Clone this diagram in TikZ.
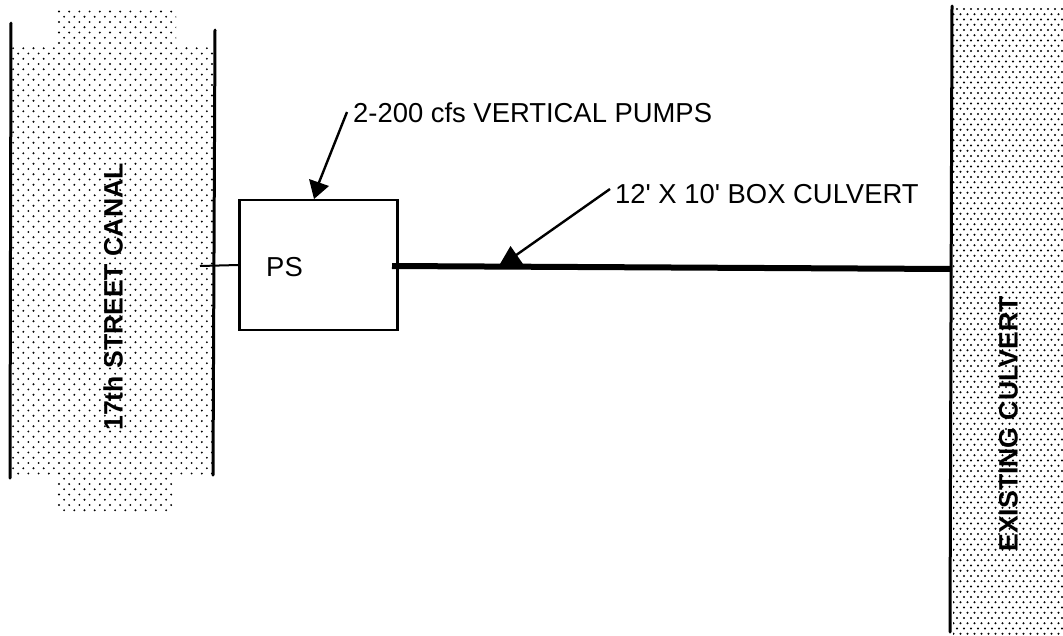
\documentclass[tikz,border=0pt]{standalone}
\usepackage{fontspec}
\newfontfamily\lab{Liberation Sans}
\tikzset{
  wall/.style={line width=3pt,line cap=round},
  leader/.style={line width=2.4pt},
  lbl/.style={inner sep=0pt,font=\lab\fontsize{27.4}{30}\selectfont},
  vlbl/.style={inner sep=0pt,rotate=90,font=\lab\fontsize{26.6}{30}\selectfont\bfseries}
}
\begin{document}
\begin{tikzpicture}[x=1pt,y=-1pt]
\useasboundingbox (0,0) rectangle (1063,635);
% left stipple
\begin{scope}
\clip (57,10) -- (176,10) -- (176,47) -- (213,47) -- (213,476) -- (172,476) -- (172,514) -- (55,514) -- (55,476) -- (11,476) -- (11,47) -- (57,47) -- cycle;
\fill[black] foreach \r in {0,...,97} {
  foreach \c in {0,...,21} {
    ({8+\c*10.2+mod(\r,2)*5.1},{11.5+\r*5.25}) circle (1.05)
  }
};
\end{scope}
% right stipple
\begin{scope}
\clip (953,8) rectangle (1063,635);
\fill[black] foreach \r in {0,...,120} {
  foreach \c in {0,...,16} {
    ({950+\c*7+mod(\r,2)*3.5},{9+\r*5.25}) circle (1.05)
  }
};
\end{scope}
% walls
\coordinate (lwa) at (11,23);
\coordinate (lwb) at (10,478);
\coordinate (lwc) at (215,30);
\coordinate (lwd) at (213,475);
\coordinate (rwa) at (952,6);
\coordinate (rwb) at (950,632);
\draw[wall] (lwa) -- (lwb);
\draw[wall] (lwc) -- (lwd);
\draw[wall] (rwa) -- (rwb);
% pump station
\node[draw,line width=2.8pt,minimum width=158pt,minimum height=130pt,inner sep=0pt] (ps) at (318.5,265) {};
\node[lbl] (pstext) at (284.5,267) {PS};
\coordinate (intake) at (200,266);
\coordinate (cend) at (952,269);
\coordinate (cstart) at (392,266);
\draw[line width=2pt] (intake) -- (ps.west);
\draw[line width=6pt] (cstart) -- (cend);
% labels
\node[lbl,anchor=west] (pumps) at (353,113) {2-200 cfs VERTICAL PUMPS};
\node[lbl,anchor=west] (box) at (615,194) {12' X 10' BOX CULVERT};
\node[vlbl] (canal) at (113,297) {17th STREET CANAL};
\node[vlbl] (exist) at (1008.5,424) {EXISTING CULVERT};
% leaders
\coordinate (a1) at (347,112);
\coordinate (a2) at (316,190);
\coordinate (b1) at (610,189);
\coordinate (b2) at (512,258);
\draw[leader] (a1) -- (a2);
\fill (309,179) -- (329,186) -- (314,199) -- cycle;
\draw[leader] (b1) -- (b2);
\fill (510.5,246) -- (500,264) -- (523,264) -- cycle;
\end{tikzpicture}
\end{document}
